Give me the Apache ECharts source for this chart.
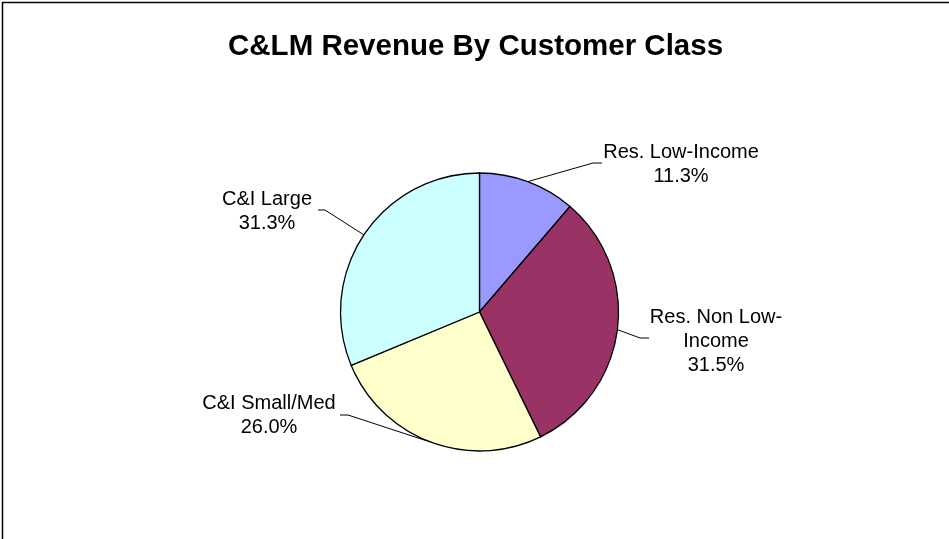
<!DOCTYPE html>
<html>
<head>
<meta charset="utf-8">
<title>C&amp;LM Revenue By Customer Class</title>
<script src="https://cdn.jsdelivr.net/npm/echarts@6/dist/echarts.min.js"></script>
<style>
  html, body { margin: 0; padding: 0; background: #fff; }
  #chart { width: 949px; height: 539px; }
</style>
</head>
<body>
<div id="chart"></div>
<script>
const categories = ['Res. Low-Income', 'Res. Non Low-Income', 'C&I Small/Med', 'C&I Large'];
const shares = [11.3, 31.5, 26.0, 31.3];
const sliceColors = ['#9999ff', '#993366', '#ffffcc', '#ccffff'];

// where Excel put each label (block centre) and its leader bend / end
const labelSpots = [
  { x: 681, y: 164, bend: [593, 163], end: [602, 163] },
  { x: 716, y: 341, bend: [640, 338], end: [649, 338] },
  { x: 269, y: 415, bend: [348, 415], end: [340, 415] },
  { x: 267, y: 211, bend: [325, 210], end: [318, 210] }
];

const chart = echarts.init(document.getElementById('chart'));
const font = "'Liberation Sans', Arial, sans-serif";

chart.setOption({
  backgroundColor: '#fff',
  animation: false,
  title: {
    text: 'C&LM Revenue By Customer Class',
    left: 228,
    top: 32,
    padding: 0,
    textStyle: { fontFamily: font, fontSize: 29.5, fontWeight: 'bold', color: '#000' }
  },
  graphic: [{
    type: 'rect',
    shape: { x: 2.5, y: 2.5, width: 1000, height: 600 },
    style: { fill: 'none', stroke: '#000', lineWidth: 1.5 },
    silent: true
  }],
  series: [{
    type: 'pie',
    center: [479.5, 312],
    radius: 139,
    startAngle: 90,
    clockwise: true,
    avoidLabelOverlap: false,
    data: categories.map((name, i) => ({
      name,
      value: shares[i],
      itemStyle: { color: sliceColors[i] }
    })),
    itemStyle: { borderColor: '#000', borderWidth: 1.3 },
    label: {
      show: true,
      position: 'outside',
      fontFamily: font,
      fontSize: 20,
      lineHeight: 24,
      color: '#000',
      align: 'center',
      formatter: p => p.name.replace('Non Low-', 'Non Low-\n') + '\n' + p.value.toFixed(1) + '%'
    },
    labelLine: { show: true, lineStyle: { color: '#000', width: 1 } },
    labelLayout: params => {
      const s = labelSpots[params.dataIndex];
      const start = params.labelLinePoints ? params.labelLinePoints[0] : s.bend;
      return {
        x: s.x,
        y: s.y,
        align: 'center',
        verticalAlign: 'middle',
        labelLinePoints: [start, s.bend, s.end]
      };
    },
    emphasis: { disabled: true }
  }]
});
</script>
</body>
</html>
